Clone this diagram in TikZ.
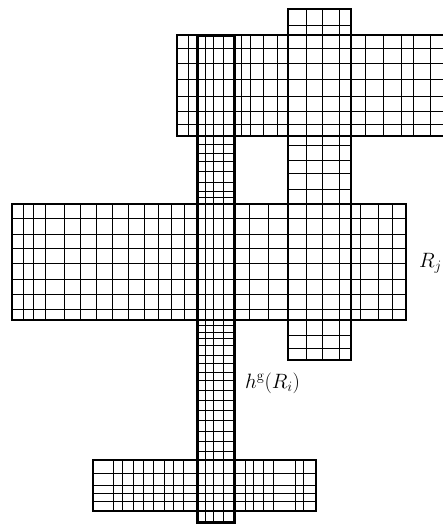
\documentclass[tikz,border=0pt]{standalone}
\begin{document}
\begin{tikzpicture}[x=1pt,y=-1pt,
  gridline/.style={line width=0.9pt},
  outline/.style={line width=2pt},
  thickoutline/.style={line width=3pt},
  lab/.style={inner sep=0pt,anchor=base west,font=\huge}]
\clip (0,0) rectangle (443,525);
% ---- top rectangle grid
\foreach \x in {188,205,213,223,241,250,263,277,306,322,339,365,383,401,413,430}
  \draw[gridline] (\x,35) -- (\x,136);
\foreach \y in {48.5,63,79,96,111,124}
  \draw[gridline] (177,\y) -- (446,\y);
% ---- middle rectangle grid
\foreach \x in {23,33,45,64,80,96,112,128,144,158,171,184,205,213,223,249,268,306,322,339,360,378,392}
  \draw[gridline] (\x,204) -- (\x,320);
\foreach \y in {218,234,248,263,279,294,309}
  \draw[gridline] (12,\y) -- (406,\y);
% ---- bottom rectangle grid
\foreach \x in {113,122,133,143,153,164,173,183,205,213,223,245,253,263,273,295,303}
  \draw[gridline] (\x,460) -- (\x,511);
\foreach \y in {473,485,493,501}
  \draw[gridline] (93,\y) -- (316,\y);
% ---- right narrow rectangle grid
\foreach \x in {306,322,339}
  \draw[gridline] (\x,9) -- (\x,360);
\foreach \y in {25,145,160,173,189,335,348}
  \draw[gridline] (288,\y) -- (351,\y);
% ---- tall narrow rectangle grid
\foreach \x in {205,213,223}
  \draw[gridline] (\x,35) -- (\x,522);
\foreach \y in {144,153,161,171,182,191,197,325,332,338,345,355,363,372,380,390,400,410,420,431,441,451}
  \draw[gridline] (197,\y) -- (234,\y);
% ---- outlines
\draw[outline] (177,35) rectangle (446,136);
\draw[outline] (12,204) rectangle (406,320);
\draw[outline] (93,460) rectangle (316,511);
\draw[outline] (288,9) rectangle (351,360);
\draw[thickoutline] (197,35) rectangle (234,522);
% ---- labels
\node[lab] (rj) at (419,267) {$R_j$};
\node[lab] (hri) at (245,388) {$h^{\mathrm{g}}(R_i)$};
\end{tikzpicture}
\end{document}
